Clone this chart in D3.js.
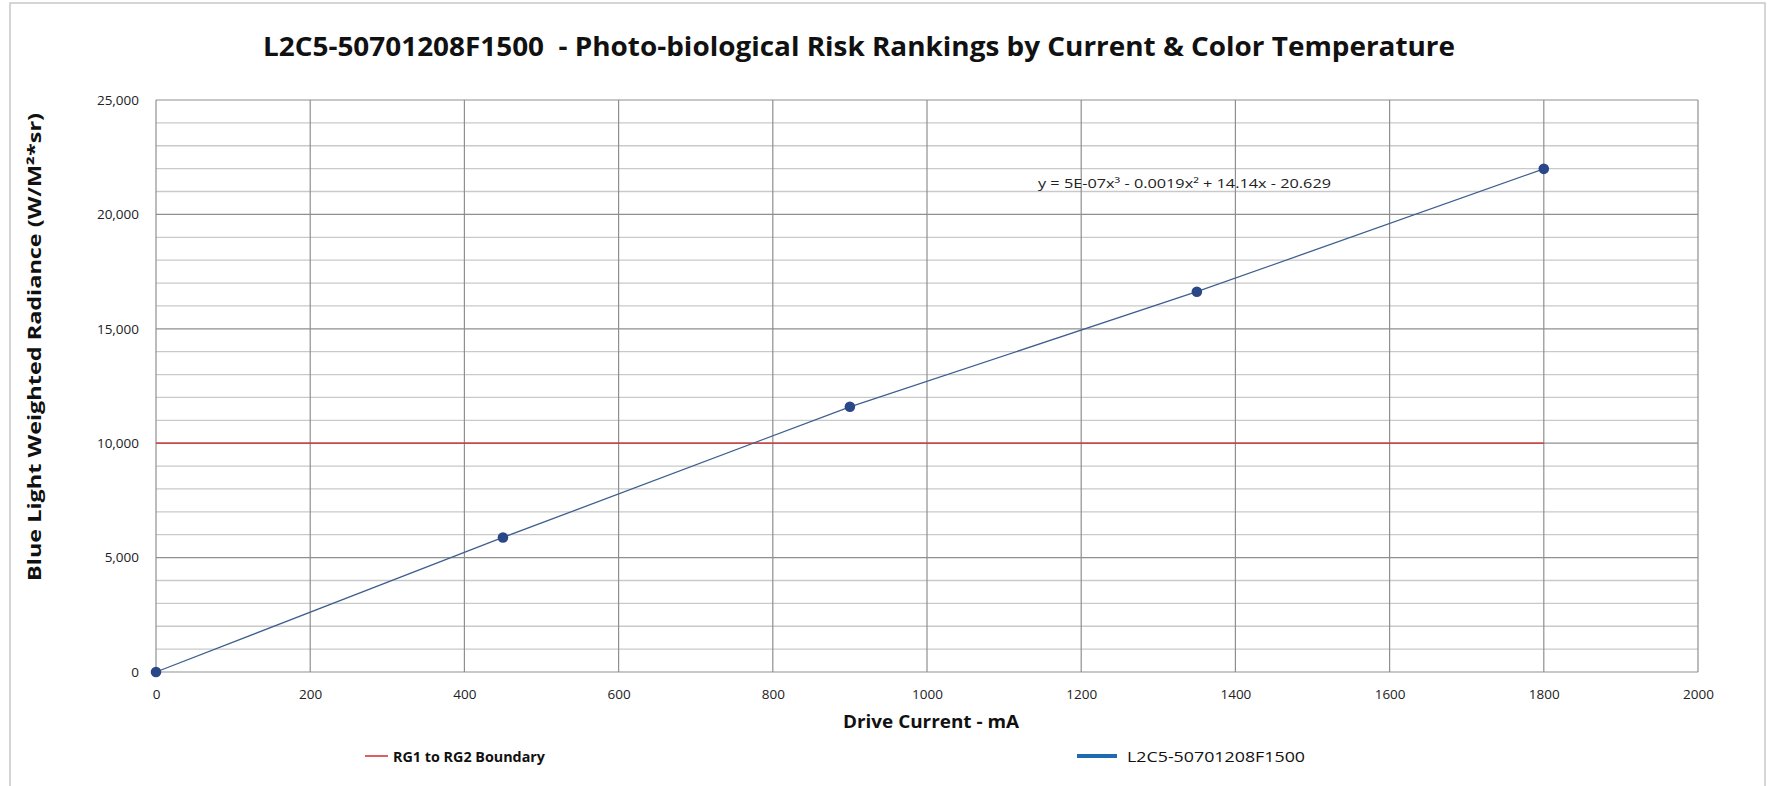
<!DOCTYPE html>
<html><head><meta charset="utf-8">
<script src="https://cdn.jsdelivr.net/npm/d3@7"></script>
<style>
html,body{margin:0;padding:0;background:#fff;}
svg text{font-family:"Liberation Sans Narrow","Open Sans","Liberation Sans",sans-serif;}
</style></head>
<body>
<script>
// ---- data ----
const driveCurrent = [0, 450, 900, 1350, 1800];
const radiance = [0, 5880, 11590, 16620, 21990];
const boundaryX = [0, 1800];
const boundaryY = [10000, 10000];
const xTicks = [0,200,400,600,800,1000,1200,1400,1600,1800,2000];
const yTicks = [0,5000,10000,15000,20000,25000];
const yMinor = d3.range(0, 25001, 1000);
const titleText = "L2C5-50701208F1500  - Photo-biological Risk Rankings by Current & Color Temperature";
const equationText = "y = 5E-07x³ - 0.0019x² + 14.14x - 20.629";
const seriesName = "L2C5-50701208F1500";
const boundaryName = "RG1 to RG2 Boundary";

const W = 1769, H = 786;
const L = 156, R = 1698, T = 100, B = 672;

const svg = d3.select("body").append("svg").attr("width", W).attr("height", H);
svg.append("rect").attr("x",10).attr("y",3).attr("width",W-14).attr("height",H+10)
  .attr("fill","#fff").attr("stroke","#c8c8c8").attr("stroke-width",1.5);

const x = d3.scaleLinear().domain([0,2000]).range([L,R]);
const y = d3.scaleLinear().domain([0,25000]).range([B,T]);

// minor horizontal grid
svg.append("g").selectAll("line").data(yMinor.filter(v=>v%5000!==0)).join("line")
  .attr("x1",L).attr("x2",R).attr("y1",d=>y(d)).attr("y2",d=>y(d))
  .attr("stroke","#c9c9c9").attr("stroke-width",1.3);
// major horizontal grid
svg.append("g").selectAll("line").data(yTicks).join("line")
  .attr("x1",L).attr("x2",R).attr("y1",d=>y(d)).attr("y2",d=>y(d))
  .attr("stroke","#8f8f8f").attr("stroke-width",1.2);
// vertical grid
svg.append("g").selectAll("line").data(xTicks).join("line")
  .attr("x1",d=>x(d)).attr("x2",d=>x(d)).attr("y1",T).attr("y2",B)
  .attr("stroke","#8f8f8f").attr("stroke-width",1.2);

// axes labels
const yAxis = d3.axisLeft(y).tickValues(yTicks).tickSize(0).tickPadding(17).tickFormat(d3.format(","));
const gy = svg.append("g").attr("transform",`translate(${L},0)`).call(yAxis);
gy.select(".domain").remove();
gy.selectAll("text").attr("font-size",13.5).attr("fill","#222").attr("font-family","'Open Sans',sans-serif");

const xAxis = d3.axisBottom(x).tickValues(xTicks).tickSize(0).tickPadding(17).tickFormat(d3.format("d"));
const gx = svg.append("g").attr("transform",`translate(0,${B})`).call(xAxis);
gx.select(".domain").remove();
gx.selectAll("text").attr("font-size",13.5).attr("fill","#222");

// boundary line
svg.append("path").datum(boundaryX.map((d,i)=>[d,boundaryY[i]]))
  .attr("d", d3.line().x(d=>x(d[0])).y(d=>y(d[1])))
  .attr("fill","none").attr("stroke","#d42a2a").attr("stroke-width",1.3);

// series line
svg.append("path").datum(driveCurrent.map((d,i)=>[d,radiance[i]]))
  .attr("d", d3.line().x(d=>x(d[0])).y(d=>y(d[1])))
  .attr("fill","none").attr("stroke","#3f5f8f").attr("stroke-width",1.3);

// markers
svg.append("g").selectAll("circle").data(driveCurrent.map((d,i)=>[d,radiance[i]])).join("circle")
  .attr("cx",d=>x(d[0])).attr("cy",d=>y(d[1])).attr("r",5.3)
  .attr("fill","#2a4787");

// equation
svg.append("text").attr("x",1038).attr("y",188).attr("font-size",13)
  .attr("fill","#222").attr("font-family","'Open Sans',sans-serif")
  .attr("textLength",293).attr("lengthAdjust","spacingAndGlyphs").text(equationText);

// title
svg.append("text").attr("x",263).attr("y",56).attr("font-size",27).attr("font-weight","bold")
  .style("white-space","pre").attr("xml:space","preserve")
  .attr("fill","#111").attr("textLength",1192).attr("lengthAdjust","spacingAndGlyphs").text(titleText);

// y axis title
svg.append("text").attr("transform","translate(41,347) rotate(-90)").attr("text-anchor","middle")
  .attr("font-size",17).attr("font-weight","bold").attr("fill","#111")
  .attr("textLength",468).attr("lengthAdjust","spacingAndGlyphs")
  .text("Blue Light Weighted Radiance (W/M²*sr)");

// x axis title
svg.append("text").attr("x",843).attr("y",728).attr("font-size",17).attr("font-weight","bold")
  .attr("fill","#111").attr("textLength",176).attr("lengthAdjust","spacingAndGlyphs")
  .text("Drive Current - mA");

// legend
svg.append("line").attr("x1",365).attr("x2",388).attr("y1",756).attr("y2",756)
  .attr("stroke","#d42a2a").attr("stroke-width",1.5);
svg.append("text").attr("x",393).attr("y",762).attr("font-size",15).attr("font-weight","bold")
  .attr("fill","#111").attr("textLength",152).attr("lengthAdjust","spacingAndGlyphs").text(boundaryName);
svg.append("line").attr("x1",1077).attr("x2",1117).attr("y1",756).attr("y2",756)
  .attr("stroke","#1f6bb0").attr("stroke-width",4);
svg.append("text").attr("x",1127).attr("y",762).attr("font-size",15)
  .attr("fill","#111").attr("textLength",178).attr("lengthAdjust","spacingAndGlyphs").text(seriesName);
</script>
</body></html>
